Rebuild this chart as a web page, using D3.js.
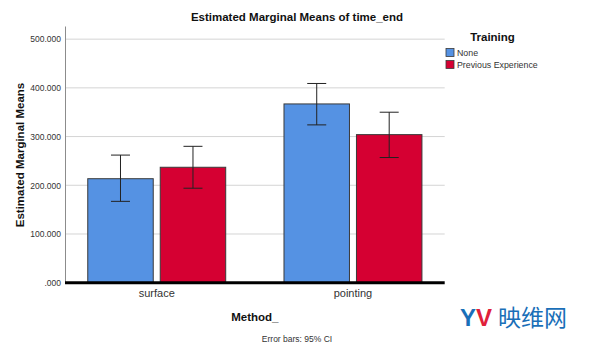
<!DOCTYPE html>
<html>
<head>
<meta charset="utf-8">
<script src="https://cdn.jsdelivr.net/npm/d3@7"></script>
<style>
  body { margin: 0; background: #fff; }
  text { font-family: Arial, "Liberation Sans", sans-serif; }
</style>
</head>
<body>
<div id="chart"></div>
<script>
// data
var methods = ["surface", "pointing"];
var trainings = ["None", "Previous Experience"];
var means = {surface: [213.5, 237], pointing: [367, 304]};
var ciLow = {surface: [167, 194], pointing: [324, 257]};
var ciHigh = {surface: [262, 280], pointing: [409, 350]};
var yTicks = [0, 100, 200, 300, 400, 500];
var colors = ["#5592e3", "#d50032"];

var W = 594, H = 351;
var plot = {left: 65, right: 444.7, top: 26, bottom: 282.7};

var svg = d3.select("#chart").append("svg")
  .attr("width", W).attr("height", H);

var y = d3.scaleLinear()
  .domain([0, 527])
  .range([plot.bottom, plot.top]);

var x0 = d3.scaleBand()
  .domain(methods)
  .range([plot.left, plot.right])
  .paddingInner(0.297)
  .paddingOuter(0.116);

var x1 = d3.scaleBand()
  .domain(d3.range(trainings.length))
  .range([0, x0.bandwidth()])
  .paddingInner(0.0966)
  .paddingOuter(0);

// gridlines
svg.append("g")
  .selectAll("line")
  .data(yTicks.filter(function(d) { return d > 0; }))
  .enter().append("line")
  .attr("x1", plot.left).attr("x2", plot.right)
  .attr("y1", function(d) { return y(d); })
  .attr("y2", function(d) { return y(d); })
  .style("stroke", "#d4d4d4")
  .style("stroke-width", 1);

// y axis
var yAxis = d3.axisLeft(y)
  .tickValues(yTicks)
  .tickSize(0)
  .tickPadding(4)
  .tickFormat(function(d) { return d === 0 ? ".000" : d3.format(".3f")(d); });

var ya = svg.append("g")
  .attr("transform", "translate(" + plot.left + ",0)")
  .call(yAxis);
ya.select(".domain").style("stroke", "#8c8c8c").style("stroke-width", 1);
ya.selectAll("text")
  .style("font-size", "8.5px")
  .style("fill", "#333")
  .style("font-family", "Arial, 'Liberation Sans', sans-serif");

// bars
var groups = svg.append("g")
  .selectAll("g")
  .data(methods)
  .enter().append("g")
  .attr("transform", function(m) { return "translate(" + x0(m) + ",0)"; });

groups.selectAll("rect")
  .data(function(m) { return means[m].map(function(v, i) { return {m: m, i: i, v: v}; }); })
  .enter().append("rect")
  .attr("x", function(d) { return x1(d.i); })
  .attr("width", x1.bandwidth())
  .attr("y", function(d) { return y(d.v); })
  .attr("height", function(d) { return y(0) - y(d.v); })
  .style("fill", function(d) { return colors[d.i]; })
  .style("stroke", "#3a3a3a")
  .style("stroke-width", 1);

// error bars
var capW = 19;
var eb = groups.selectAll("g.err")
  .data(function(m) { return means[m].map(function(v, i) { return {m: m, i: i}; }); })
  .enter().append("g")
  .attr("class", "err")
  .attr("transform", function(d) { return "translate(" + (x1(d.i) + x1.bandwidth() / 2) + ",0)"; })
  .style("stroke", "#222")
  .style("stroke-width", 1);

eb.append("line")
  .attr("x1", 0).attr("x2", 0)
  .attr("y1", function(d) { return y(ciLow[d.m][d.i]); })
  .attr("y2", function(d) { return y(ciHigh[d.m][d.i]); });
eb.append("line")
  .attr("x1", -capW / 2).attr("x2", capW / 2)
  .attr("y1", function(d) { return y(ciHigh[d.m][d.i]); })
  .attr("y2", function(d) { return y(ciHigh[d.m][d.i]); });
eb.append("line")
  .attr("x1", -capW / 2).attr("x2", capW / 2)
  .attr("y1", function(d) { return y(ciLow[d.m][d.i]); })
  .attr("y2", function(d) { return y(ciLow[d.m][d.i]); });

// x axis (thick baseline)
svg.append("line")
  .attr("x1", plot.left).attr("x2", plot.right)
  .attr("y1", y(0)).attr("y2", y(0))
  .style("stroke", "#000")
  .style("stroke-width", 3);

svg.append("g")
  .selectAll("text")
  .data(methods)
  .enter().append("text")
  .attr("x", function(m) { return x0(m) + x0.bandwidth() / 2; })
  .attr("y", 297)
  .attr("text-anchor", "middle")
  .style("font-size", "11px")
  .style("fill", "#333")
  .text(function(m) { return m; });

// titles
svg.append("text")
  .attr("x", 297).attr("y", 21)
  .attr("text-anchor", "middle")
  .style("font-size", "11.5px")
  .style("font-weight", "bold")
  .style("fill", "#111")
  .text("Estimated Marginal Means of time_end");

svg.append("text")
  .attr("x", (plot.left + plot.right) / 2).attr("y", 321)
  .attr("text-anchor", "middle")
  .style("font-size", "11.5px")
  .style("font-weight", "bold")
  .style("fill", "#111")
  .text("Method_");

svg.append("text")
  .attr("transform", "translate(24," + 155 + ") rotate(-90)")
  .attr("text-anchor", "middle")
  .style("font-size", "11.5px")
  .style("font-weight", "bold")
  .style("fill", "#111")
  .text("Estimated Marginal Means");

svg.append("text")
  .attr("x", 297).attr("y", 341.5)
  .attr("text-anchor", "middle")
  .style("font-size", "8.5px")
  .style("fill", "#333")
  .text("Error bars: 95% CI");

// legend
svg.append("text")
  .attr("x", 492.5).attr("y", 40.5)
  .attr("text-anchor", "middle")
  .style("font-size", "11.5px")
  .style("font-weight", "bold")
  .style("fill", "#111")
  .text("Training");

var lg = svg.append("g")
  .selectAll("g")
  .data(trainings)
  .enter().append("g")
  .attr("transform", function(d, i) { return "translate(446," + (48.5 + i * 12) + ")"; });
lg.append("rect")
  .attr("width", 8).attr("height", 8)
  .style("fill", function(d, i) { return colors[i]; })
  .style("stroke", "#3a3a3a")
  .style("stroke-width", 0.8);
lg.append("text")
  .attr("x", 11).attr("y", 7.5)
  .style("font-size", "8.8px")
  .style("fill", "#333")
  .text(function(d) { return d; });

// watermark
var wm = svg.append("text")
  .attr("x", 460).attr("y", 326)
  .style("font-size", "24px")
  .style("font-weight", "bold");
wm.append("tspan").style("fill", "#1a6fb8").text("Y");
wm.append("tspan").style("fill", "#e0203a").text("V");
svg.append("text")
  .attr("x", 498).attr("y", 326)
  .style("font-size", "23px")
  .style("font-family", "'Noto Sans CJK SC', sans-serif")
  .style("fill", "#1a6fb8")
  .text("映维网");
</script>
</body>
</html>
